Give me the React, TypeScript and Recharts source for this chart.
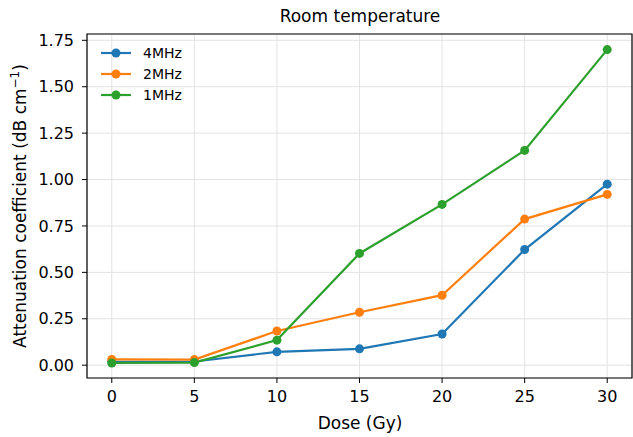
import { CartesianGrid, Line, LineChart, ReferenceArea, XAxis, YAxis } from "recharts";

const doses = [0, 5, 10, 15, 20, 25, 30];
const mhz4 = [0.018, 0.02, 0.072, 0.088, 0.168, 0.623, 0.975];
const mhz2 = [0.031, 0.03, 0.184, 0.285, 0.377, 0.787, 0.92];
const mhz1 = [0.012, 0.014, 0.135, 0.602, 0.866, 1.157, 1.7];

const xTicks = [0, 5, 10, 15, 20, 25, 30];
const yTicks = [0, 0.25, 0.5, 0.75, 1.0, 1.25, 1.5, 1.75];

const series = [
  { key: "mhz4", name: "4MHz", color: "#1f77b4" },
  { key: "mhz2", name: "2MHz", color: "#ff7f0e" },
  { key: "mhz1", name: "1MHz", color: "#2ca02c" },
];

const data = doses.map((d, i) => ({ dose: d, mhz4: mhz4[i], mhz2: mhz2[i], mhz1: mhz1[i] }));

const FONT = "DejaVu Sans";
const X_DOMAIN: [number, number] = [-1.5, 31.5];
const Y_DOMAIN: [number, number] = [-0.069, 1.784];

export default function App() {
  return (
    <div style={{ position: "absolute", left: 0, top: 0, width: 633, height: 437, background: "#fff" }}>
      <LineChart
        width={633}
        height={437}
        data={data}
        margin={{ top: 34, right: 1, bottom: 0, left: 0 }}
        style={{ fontFamily: FONT }}
      >
        <CartesianGrid stroke="#e3e3e3" strokeWidth={1} />
        <XAxis
          dataKey="dose"
          type="number"
          domain={X_DOMAIN}
          ticks={xTicks}
          allowDataOverflow
          height={59}
          axisLine={false}
          tickSize={5}
          tickMargin={8}
          tickLine={{ stroke: "#000" }}
          tick={{ fill: "#000", fontSize: 16 }}
          label={{
            content: () => (
              <text x={360} y={429} textAnchor="middle" fontSize={17} fill="#000">
                Dose (Gy)
              </text>
            ),
          }}
        />
        <YAxis
          type="number"
          domain={Y_DOMAIN}
          ticks={yTicks}
          allowDataOverflow
          width={87}
          axisLine={false}
          tickSize={5}
          tickMargin={8}
          tickLine={{ stroke: "#000" }}
          tick={{ fill: "#000", fontSize: 16 }}
          tickFormatter={(v: number) => v.toFixed(2)}
          label={{
            content: () => (
              <text x={26} y={206} transform="rotate(-90 26 206)" textAnchor="middle" fontSize={17} fill="#000">
                Attenuation coefficient (dB cm
                <tspan baselineShift="super" fontSize={12}>−1</tspan>)
              </text>
            ),
          }}
        />
        {series.map((s) => (
          <Line
            key={s.key}
            dataKey={s.key}
            name={s.name}
            stroke={s.color}
            strokeWidth={2.2}
            dot={{ r: 4.5, fill: s.color, stroke: s.color, strokeWidth: 0 }}
            activeDot={false}
            isAnimationActive={false}
          />
        ))}
        <ReferenceArea
          x1={X_DOMAIN[0]}
          x2={X_DOMAIN[1]}
          y1={Y_DOMAIN[0]}
          y2={Y_DOMAIN[1]}
          fill="none"
          stroke="#000"
          strokeWidth={1.2}
          ifOverflow="visible"
        />
        <text x={360} y={22} textAnchor="middle" fontSize={17} fill="#000" fontFamily={FONT}>
          Room temperature
        </text>
        {series.map((s, i) => (
          <g key={"leg-" + s.key}>
            <line x1={101} y1={53 + i * 21} x2={131} y2={53 + i * 21} stroke={s.color} strokeWidth={2.2} />
            <circle cx={116} cy={53 + i * 21} r={4.5} fill={s.color} />
            <text x={143} y={58 + i * 21} fontSize={14} fill="#000" fontFamily={FONT}>
              {s.name}
            </text>
          </g>
        ))}
      </LineChart>
    </div>
  );
}
